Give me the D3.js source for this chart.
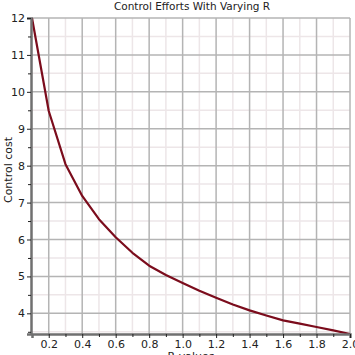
<!DOCTYPE html>
<html><head><meta charset="utf-8">
<script src="https://cdn.jsdelivr.net/npm/d3@7"></script>
<style>body{margin:0;background:#fff}svg{display:block}</style>
</head><body>
<script>
const rValues = [0.1,0.2,0.3,0.4,0.5,0.6,0.7,0.8,0.9,1.0,1.1,1.2,1.3,1.4,1.5,1.6,1.7,1.8,1.9,2.0];
const costValues = [12.0,9.48,8.04,7.18,6.55,6.06,5.64,5.29,5.04,4.82,4.61,4.42,4.24,4.08,3.94,3.81,3.72,3.63,3.54,3.44];
const xTicks = [0.2,0.4,0.6,0.8,1.0,1.2,1.4,1.6,1.8,2.0];
const xMinor = [0.3,0.5,0.7,0.9,1.1,1.3,1.5,1.7,1.9];
const yTicks = [4,5,6,7,8,9,10,11,12];
const yMinor = [3.5,4.5,5.5,6.5,7.5,8.5,9.5,10.5,11.5];

const W=355,H=355;
const m={l:31,r:5,t:18,b:21};
const svg=d3.select("body").append("svg").attr("width",W).attr("height",H);
const x=d3.scaleLinear().domain([0.1,2.0]).range([m.l+1,W-m.r]);
const y=d3.scaleLinear().domain([d3.min(costValues),12]).range([H-m.b,m.t]);

const g=svg.append("g");
// minor grid
g.selectAll(".mx").data(xMinor).join("line").attr("x1",d=>x(d)).attr("x2",d=>x(d)).attr("y1",y.range()[0]).attr("y2",y.range()[1]).attr("stroke","#ede6e8").attr("stroke-width",1.5);
g.selectAll(".my").data(yMinor).join("line").attr("y1",d=>y(d)).attr("y2",d=>y(d)).attr("x1",x.range()[0]).attr("x2",x.range()[1]).attr("stroke","#ede6e8").attr("stroke-width",1.5);
// major grid
g.selectAll(".gx").data(xTicks).join("line").attr("x1",d=>x(d)).attr("x2",d=>x(d)).attr("y1",y.range()[0]).attr("y2",y.range()[1]).attr("stroke","#b4b4b4").attr("stroke-width",1.5);
g.selectAll(".gy").data(yTicks).join("line").attr("y1",d=>y(d)).attr("y2",d=>y(d)).attr("x1",x.range()[0]).attr("x2",x.range()[1]).attr("stroke","#b4b4b4").attr("stroke-width",1.5);

// curve
const line=d3.line().x((d,i)=>x(rValues[i])).y(d=>y(d));
svg.append("path").datum(costValues).attr("d",line).attr("fill","none").attr("stroke","#7b0c1c").attr("stroke-width",2.2).attr("stroke-linejoin","round");

// axes
const font="DejaVu Sans, sans-serif";
const xa=svg.append("g").attr("transform",`translate(0,${H-m.b})`)
  .call(d3.axisBottom(x).tickValues(xTicks).tickFormat(d3.format(".1f")).tickSizeOuter(0).tickSize(4).tickPadding(2));
const xm=svg.append("g").attr("transform",`translate(0,${H-m.b})`)
  .call(d3.axisBottom(x).tickValues(xMinor).tickFormat("").tickSizeOuter(0).tickSize(3));
xm.select(".domain").remove();
const ya=svg.append("g").attr("transform",`translate(${m.l},0)`)
  .call(d3.axisLeft(y).tickValues(yTicks).tickSizeOuter(0).tickSize(4).tickPadding(2));
const ym=svg.append("g").attr("transform",`translate(${m.l},0)`)
  .call(d3.axisLeft(y).tickValues(yMinor).tickFormat("").tickSizeOuter(0).tickSize(3));
ym.select(".domain").remove();
[xa,ya].forEach(a=>{a.select(".domain").attr("stroke","#707070").attr("stroke-width",2.5);});
[xa,ya,xm,ym].forEach(a=>{a.selectAll(".tick line").attr("stroke","#222");a.selectAll("text").attr("font-family",font).attr("font-size",11).attr("fill","#222");});

svg.append("text").attr("x",192).attr("y",10).attr("text-anchor","middle").attr("font-family",font).attr("font-size",10.5).attr("fill","#222").text("Control Efforts With Varying R");
svg.append("text").attr("x",(x.range()[0]+x.range()[1])/2).attr("y",H+5).attr("text-anchor","middle").attr("font-family",font).attr("font-size",11).attr("fill","#222").text("R values");
svg.append("text").attr("transform",`translate(12,170) rotate(-90)`).attr("text-anchor","middle").attr("font-family",font).attr("font-size",11).attr("fill","#222").text("Control cost");
</script>
</body></html>
